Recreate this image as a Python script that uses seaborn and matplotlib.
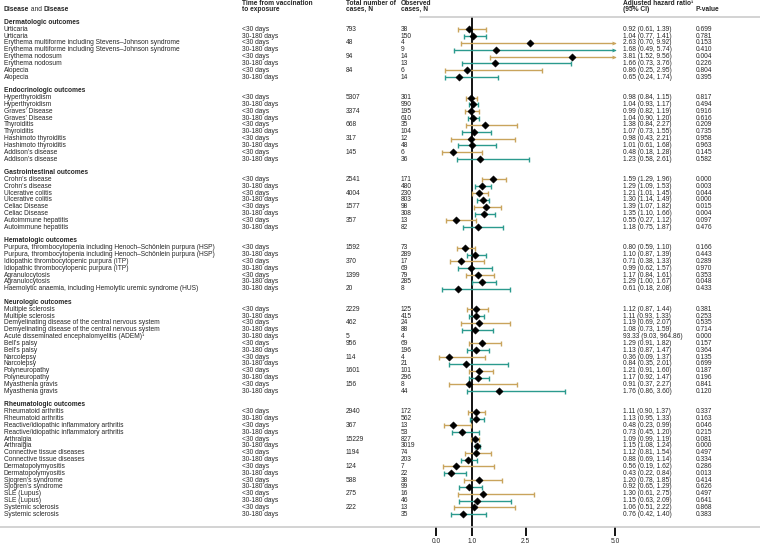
import numpy as np
import pandas as pd
import matplotlib
matplotlib.use("Agg")
import matplotlib.pyplot as plt
import matplotlib.transforms as mtransforms
from matplotlib.lines import Line2D
import seaborn as sns

# ---------------- data ----------------
group_names = ["Dermatologic outcomes", "Endocrinologic outcomes", "Gastrointestinal outcomes",
               "Hematologic outcomes", "Neurologic outcomes", "Rheumatologic outcomes"]
group_sizes = [8, 10, 8, 7, 13, 16]

diseases = [
    "Urticaria", "Urticaria",
    "Erythema multiforme including Stevens\u2013Johnson syndrome", "Erythema multiforme including Stevens\u2013Johnson syndrome",
    "Erythema nodosum", "Erythema nodosum", "Alopecia", "Alopecia",
    "Hyperthyroidism", "Hyperthyroidism", "Graves\u2019 Disease", "Graves\u2019 Disease",
    "Thyroiditis", "Thyroiditis", "Hashimoto thyroiditis", "Hashimoto thyroiditis",
    "Addison\u2019s disease", "Addison\u2019s disease",
    "Crohn\u2019s disease", "Crohn\u2019s disease", "Ulcerative colitis", "Ulcerative colitis",
    "Celiac Disease", "Celiac Disease", "Autoimmune hepatitis", "Autoimmune hepatitis",
    "Purpura, thrombocytopenia including Henoch\u2013Sch\u00f6nlein purpura (HSP)",
    "Purpura, thrombocytopenia including Henoch\u2013Sch\u00f6nlein purpura (HSP)",
    "Idiopathic thrombocytopenic purpura (ITP)", "Idiopathic thrombocytopenic purpura (ITP)",
    "Agranulocytosis", "Agranulocytosis",
    "Haemolytic anaemia, including Hemolytic uremic syndrome (HUS)",
    "Multiple sclerosis", "Multiple sclerosis",
    "Demyelinating disease of the central nervous system", "Demyelinating disease of the central nervous system",
    "Acute disseminated encephalomyelitis (ADEM)\u00b9",
    "Bell\u2019s palsy", "Bell\u2019s palsy", "Narcolepsy", "Narcolepsy",
    "Polyneuropathy", "Polyneuropathy", "Myasthenia gravis", "Myasthenia gravis",
    "Rheumatoid arthritis", "Rheumatoid arthritis",
    "Reactive/idiopathic inflammatory arthritis", "Reactive/idiopathic inflammatory arthritis",
    "Arthralgia", "Arthralgia", "Connective tissue diseases", "Connective tissue diseases",
    "Dermatopolymyositis", "Dermatopolymyositis", "Sjogren\u2019s syndrome", "Sjogren\u2019s syndrome",
    "SLE (Lupus)", "SLE (Lupus)", "Systemic sclerosis", "Systemic sclerosis",
]
periods = (["<30 days", "30-180 days"] * 16 + ["30-180 days"]
           + ["<30 days", "30-180 days"] * 2 + ["30-180 days"]
           + ["<30 days", "30-180 days"] * 12)
totals = ["793", "", "48", "", "94", "", "84", "",
          "5307", "", "3374", "", "668", "", "317", "", "145", "",
          "2541", "", "4004", "", "1577", "", "357", "",
          "1592", "", "370", "", "1399", "", "20",
          "2229", "", "462", "", "5", "956", "", "114", "", "1601", "", "156", "",
          "2940", "", "367", "", "15229", "", "1194", "", "124", "", "588", "", "275", "", "222", ""]
observed = [38, 150, 4, 9, 14, 13, 6, 14,
            301, 990, 195, 610, 35, 104, 12, 48, 6, 36,
            171, 480, 230, 803, 98, 308, 13, 82,
            73, 289, 17, 69, 79, 285, 8,
            125, 415, 24, 88, 4, 69, 196, 4, 21, 101, 296, 8, 44,
            172, 562, 13, 53, 827, 3019, 74, 203, 7, 22, 38, 99, 16, 46, 13, 35]
hr = [0.92, 1.04, 2.63, 1.68, 3.81, 1.66, 0.86, 0.65,
      0.98, 1.04, 0.99, 1.04, 1.38, 1.07, 0.98, 1.01, 0.48, 1.23,
      1.59, 1.29, 1.21, 1.30, 1.39, 1.35, 0.55, 1.18,
      0.80, 1.10, 0.71, 0.99, 1.17, 1.29, 0.61,
      1.12, 1.11, 1.19, 1.08, 93.33, 1.29, 1.13, 0.36, 0.84, 1.21, 1.17, 0.91, 1.76,
      1.11, 1.13, 0.48, 0.73, 1.09, 1.15, 1.12, 0.88, 0.56, 0.43, 1.20, 0.92, 1.30, 1.15, 1.06, 0.76]
ci_low = [0.61, 0.77, 0.70, 0.49, 1.52, 0.73, 0.25, 0.24,
          0.84, 0.93, 0.82, 0.90, 0.84, 0.73, 0.43, 0.61, 0.18, 0.58,
          1.29, 1.09, 1.01, 1.14, 1.07, 1.10, 0.27, 0.75,
          0.59, 0.87, 0.38, 0.62, 0.84, 1.00, 0.18,
          0.87, 0.93, 0.69, 0.73, 9.03, 0.91, 0.87, 0.09, 0.35, 0.91, 0.92, 0.37, 0.86,
          0.90, 0.95, 0.23, 0.45, 0.99, 1.08, 0.81, 0.69, 0.19, 0.22, 0.78, 0.65, 0.61, 0.63, 0.51, 0.42]
ci_high = [1.39, 1.41, 9.92, 5.74, 9.56, 3.76, 2.95, 1.74,
           1.15, 1.17, 1.19, 1.20, 2.27, 1.55, 2.21, 1.68, 1.28, 2.61,
           1.96, 1.53, 1.45, 1.49, 1.82, 1.66, 1.12, 1.87,
           1.10, 1.39, 1.33, 1.57, 1.61, 1.67, 2.08,
           1.44, 1.33, 2.07, 1.59, 964.86, 1.82, 1.47, 1.37, 2.01, 1.60, 1.47, 2.27, 3.60,
           1.37, 1.33, 0.99, 1.20, 1.19, 1.24, 1.54, 1.14, 1.62, 0.84, 1.85, 1.29, 2.75, 2.09, 2.22, 1.40]
pvalues = ["0.699", "0.781", "0.153", "0.410", "0.004", "0.226", "0.804", "0.395",
           "0.817", "0.494", "0.916", "0.616", "0.209", "0.735", "0.958", "0.963", "0.145", "0.582",
           "0.000", "0.003", "0.044", "0.000", "0.015", "0.004", "0.097", "0.476",
           "0.166", "0.443", "0.289", "0.970", "0.353", "0.048", "0.433",
           "0.381", "0.253", "0.535", "0.714", "0.000", "0.157", "0.364", "0.135", "0.699",
           "0.187", "0.196", "0.841", "0.120",
           "0.337", "0.163", "0.046", "0.215", "0.081", "0.000", "0.497", "0.334",
           "0.286", "0.013", "0.414", "0.626", "0.497", "0.641", "0.868", "0.383"]
xticks = [0.0, 1.0, 2.5, 5.0]
xmax_plot = 5.0

# ---------------- layout helpers ----------------
rows = []
heading_rows = []
r = 0
for g, n in zip(group_names, group_sizes):
    heading_rows.append(r)
    for j in range(n):
        rows.append(r + 1 + j)
    r += n + 2
df = pd.DataFrame({"disease": diseases, "period": periods, "total": totals, "observed": observed,
                   "hr": hr, "lo": ci_low, "hi": ci_high, "p": pvalues, "row": rows})

W, H = 760, 545
FS = 4.8
GOLD = "#C9A45C"
TEAL = "#2B9A8E"
pal = {"<30 days": GOLD, "30-180 days": TEAL}

sns.set_style("white")
plt.rcParams["font.family"] = ["Liberation Sans", "DejaVu Sans"]

fig = plt.figure(figsize=(W / 100, H / 100), dpi=100)
px0, px1 = 420, 620
scale = 35.8
zero_px = 436
row_top, pitch = 22.4, 6.83
ax_top_px, ax_bot_px = 17, 527
ax = fig.add_axes([px0 / W, 1 - ax_bot_px / H, (px1 - px0) / W, (ax_bot_px - ax_top_px) / H])
ax.set_xlim((px0 - zero_px) / scale, (px1 - zero_px) / scale)
ax.set_ylim((ax_bot_px - row_top) / pitch, (ax_top_px - row_top) / pitch)

# reference line
ax.axvline(1.0, color="black", lw=1.3, zorder=1)

# CIs
for _, d in df.iterrows():
    if d["lo"] >= xmax_plot:
        continue
    c = pal[d["period"]]
    if d["hi"] <= xmax_plot:
        ax.errorbar(d["hr"], d["row"], xerr=[[d["hr"] - d["lo"]], [d["hi"] - d["hr"]]],
                    fmt="none", ecolor=c, elinewidth=1.0, capsize=1.8, capthick=1.0, zorder=2)
    else:
        ax.plot([d["lo"], xmax_plot], [d["row"], d["row"]], color=c, lw=1.0, zorder=2)
        ax.plot([d["lo"]], [d["row"]], marker="|", color=c, ms=3.6, mew=1.0, zorder=2)
        ax.plot([xmax_plot - 0.04], [d["row"]], marker=">", color=c, ms=2.8, mew=0, zorder=2)

pts = df[df["hr"] <= xmax_plot]
sns.scatterplot(data=pts, x="hr", y="row", marker="D", s=14, color="black",
                edgecolor="black", linewidth=0.3, ax=ax, zorder=3, legend=False)

ax.set_xlabel("")
ax.set_ylabel("")
for s in ax.spines.values():
    s.set_visible(False)
ax.set_yticks([])
ax.set_xticks(xticks)
ax.set_xticklabels([f"{t:.1f}" for t in xticks], fontsize=FS)
ax.tick_params(axis="x", length=6.5, width=1.3, color="black", direction="out", pad=1.5, bottom=True)
ax.set_facecolor("none")

# ---------------- texts ----------------
tr = mtransforms.blended_transform_factory(fig.transFigure, ax.transData)
col_disease, col_time, col_total, col_obs, col_ci, col_p = 4, 242, 346, 401, 623, 696

for g, rr in zip(group_names, heading_rows):
    fig.text(col_disease / W, rr, g, transform=tr, fontsize=FS, fontweight="bold", va="center")
for _, d in df.iterrows():
    y = d["row"]
    fig.text(col_disease / W, y, d["disease"], transform=tr, fontsize=FS, va="center")
    fig.text(col_time / W, y, d["period"], transform=tr, fontsize=FS, va="center")
    fig.text(col_total / W, y, d["total"], transform=tr, fontsize=FS, va="center")
    fig.text(col_obs / W, y, str(d["observed"]), transform=tr, fontsize=FS, va="center")
    fig.text(col_ci / W, y, f"{d['hr']:.2f} ({d['lo']:.2f}, {d['hi']:.2f})", transform=tr,
             fontsize=FS, va="center")
    fig.text(col_p / W, y, d["p"], transform=tr, fontsize=FS, va="center")

# headers
y1, y2 = 1 - 3.2 / H, 1 - 9.6 / H
t1 = fig.text(col_disease / W, y2, "Disease", fontsize=FS, fontweight="bold", va="center")
t2 = ax.annotate(" and ", xy=(1, 0.5), xycoords=t1, fontsize=FS, va="center", ha="left")
t3 = ax.annotate("Disease", xy=(1, 0.5), xycoords=t2, fontsize=FS, va="center", ha="left",
                 fontweight="bold")
for x, l1, l2 in [(col_time, "Time from vaccination", "to exposure"),
                  (col_total, "Total number of", "cases, N"),
                  (col_obs, "Observed", "cases, N"),
                  (col_ci, "Adjusted hazard ratio\u00b9", "(95% CI)")]:
    fig.text(x / W, y1, l1, fontsize=FS, fontweight="bold", va="center")
    fig.text(x / W, y2, l2, fontsize=FS, fontweight="bold", va="center")
fig.text(col_p / W, y2, "P-value", fontsize=FS, fontweight="bold", va="center")

# rules
fig.add_artist(Line2D([420 / W, 1], [1 - 17 / H, 1 - 17 / H], transform=fig.transFigure,
                      color="#C8C8C8", lw=1.1))
fig.add_artist(Line2D([0, 1], [1 - 527 / H, 1 - 527 / H], transform=fig.transFigure,
                      color="#C8C8C8", lw=1.1))

fig.savefig("out.png", dpi=100, facecolor="white")
